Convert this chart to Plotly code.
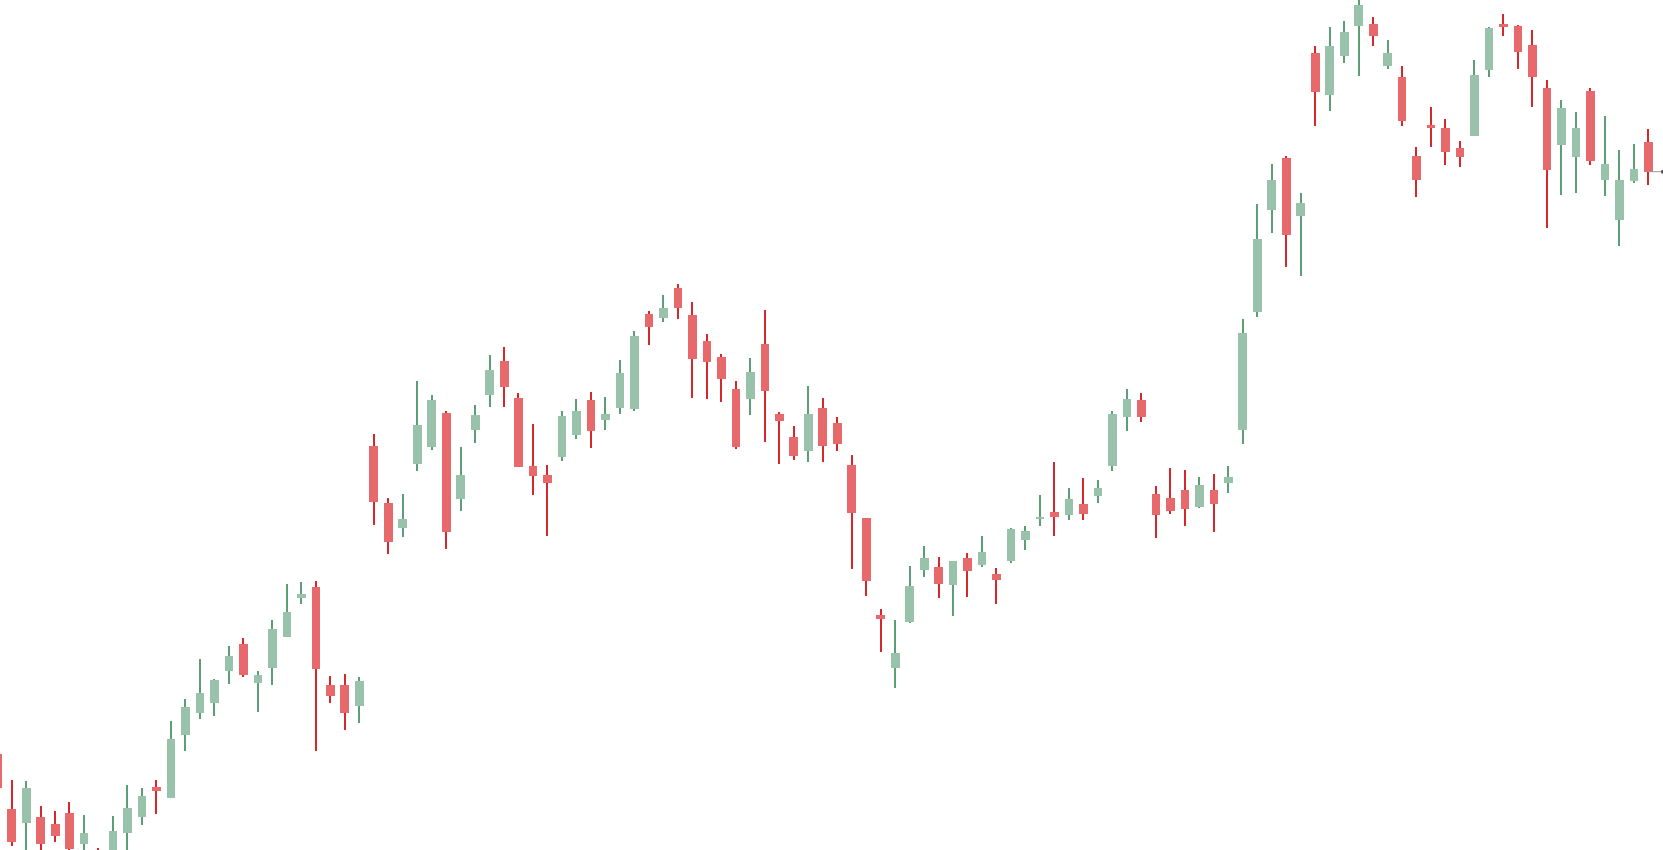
"""
Candlestick chart, axes hidden, plotted edge to edge
"""

import plotly.graph_objects as go

# OHLC per session
opens = [
    105.60, 100.10, 98.73, 99.30, 98.60, 99.70, 96.63, 95.70, 95.40, 97.73,
    99.33, 102.30, 101.23, 107.53, 109.73, 110.73, 113.93, 116.60, 112.73, 114.23,
    117.33, 121.23, 122.30, 112.50, 112.50, 110.43, 136.40, 130.70, 128.23, 134.63,
    136.33, 139.70, 131.13, 138.03, 141.53, 144.90, 141.20, 134.40, 133.50, 135.33,
    137.53, 141.00, 139.03, 140.23, 140.13, 149.60, 149.23, 152.20, 149.50, 146.90,
    145.30, 142.10, 141.13, 146.64, 139.60, 137.30, 135.93, 140.20, 138.70, 134.50,
    129.20, 119.47, 114.23, 118.83, 124.03, 124.30, 122.53, 125.20, 124.53, 123.60,
    124.93, 127.03, 129.17, 129.80, 129.53, 130.60, 131.43, 134.43, 139.27, 141.00,
    131.60, 131.20, 132.00, 130.33, 132.00, 132.73, 138.03, 149.80, 160.03, 165.20,
    159.43, 175.70, 171.53, 175.43, 178.43, 178.60, 174.43, 173.30, 165.40, 168.50,
    168.20, 166.20, 167.45, 174.03, 178.60, 178.40, 176.50, 172.20, 166.53, 165.33,
    171.90, 163.03, 159.03, 162.93, 166.80,
]
highs = [
    106.00, 103.00, 102.90, 100.37, 99.87, 100.77, 99.47, 96.17, 99.37, 102.47,
    102.17, 103.00, 108.87, 111.07, 115.07, 113.10, 116.40, 117.17, 113.87, 118.97,
    122.60, 122.77, 122.90, 113.37, 113.57, 113.30, 137.57, 131.17, 131.60, 142.87,
    141.47, 139.90, 136.27, 140.47, 145.50, 146.27, 141.70, 138.57, 134.47, 139.87,
    141.07, 141.77, 141.27, 144.97, 147.87, 149.87, 151.47, 152.57, 150.77, 147.57,
    145.60, 142.87, 145.17, 150.03, 139.77, 138.37, 142.40, 141.17, 139.27, 135.47,
    129.20, 120.10, 119.00, 124.37, 126.40, 125.27, 124.90, 125.67, 127.40, 124.17,
    128.20, 128.40, 131.47, 134.80, 132.17, 133.17, 132.97, 139.87, 142.07, 141.67,
    132.37, 134.17, 133.97, 133.27, 133.57, 134.37, 149.07, 160.57, 164.57, 165.43,
    161.67, 176.37, 178.27, 178.87, 181.30, 179.27, 176.97, 174.37, 166.30, 170.27,
    169.10, 166.87, 174.97, 178.30, 179.57, 178.47, 177.97, 172.97, 170.97, 169.77,
    172.17, 169.37, 165.97, 166.57, 168.07,
]
lows = [
    101.50, 96.43, 95.50, 95.70, 96.83, 95.80, 95.40, 94.80, 95.00, 95.80,
    98.47, 99.57, 101.17, 105.93, 109.07, 109.37, 112.63, 113.27, 109.83, 112.47,
    117.33, 120.57, 105.87, 110.67, 107.97, 108.67, 128.47, 125.57, 127.27, 133.87,
    135.97, 126.13, 129.87, 136.67, 140.27, 140.27, 134.33, 131.47, 127.37, 134.87,
    137.07, 136.17, 137.97, 139.63, 139.87, 146.53, 148.77, 149.13, 141.23, 141.13,
    140.77, 136.13, 139.55, 136.80, 134.57, 134.97, 134.77, 134.77, 135.87, 124.07,
    121.37, 115.77, 112.17, 118.67, 123.35, 121.17, 119.37, 121.27, 124.27, 120.57,
    124.67, 125.97, 128.37, 127.37, 128.97, 128.97, 130.67, 133.87, 137.87, 138.85,
    127.17, 129.57, 128.37, 130.17, 127.77, 131.67, 136.57, 149.33, 157.67, 154.27,
    153.37, 168.37, 169.87, 174.67, 173.43, 176.37, 174.13, 168.43, 161.33, 166.27,
    164.53, 164.33, 167.43, 173.27, 177.37, 174.07, 170.27, 158.17, 161.47, 161.67,
    164.53, 161.37, 156.37, 162.67, 162.50,
]
closes = [
    102.20, 96.83, 102.20, 96.63, 97.43, 96.13, 97.70, 95.20, 97.90, 100.20,
    101.40, 101.93, 107.10, 110.30, 111.70, 113.00, 115.40, 113.53, 113.50, 118.10,
    119.80, 121.60, 114.13, 111.43, 109.73, 112.90, 130.83, 126.83, 129.10, 138.50,
    141.00, 127.83, 133.50, 139.50, 144.00, 142.33, 134.33, 133.43, 132.73, 139.40,
    139.90, 137.93, 139.60, 143.70, 147.40, 148.33, 150.20, 150.23, 145.13, 144.83,
    143.13, 136.33, 143.80, 141.93, 138.93, 135.43, 139.60, 136.43, 136.63, 129.73,
    122.93, 119.13, 115.70, 122.40, 125.20, 122.63, 124.90, 123.93, 125.80, 123.03,
    128.10, 127.90, 129.30, 129.33, 131.10, 129.63, 132.20, 139.60, 141.10, 139.27,
    129.53, 129.93, 130.13, 132.50, 130.63, 133.30, 147.70, 157.10, 163.00, 157.53,
    160.70, 171.83, 176.40, 177.80, 180.50, 177.43, 175.70, 168.93, 163.03, 168.23,
    165.83, 165.33, 173.50, 178.20, 178.27, 175.83, 173.33, 164.03, 170.20, 168.20,
    164.93, 164.60, 162.97, 164.10, 163.83,
]

UP_BODY = '#98c2aa'
UP_WICK = '#5c9e76'
DOWN_BODY = '#e7696c'
DOWN_WICK = '#d6282c'

idx = list(range(len(closes)))
rising = [c > o for o, c in zip(opens, closes)]

fig = go.Figure()

# Wicks (thin bars from low to high)
fig.add_trace(go.Bar(
    x=idx,
    base=lows,
    y=[h - l for h, l in zip(highs, lows)],
    width=0.09,
    marker=dict(color=[UP_WICK if r else DOWN_WICK for r in rising], line=dict(width=0)),
    hoverinfo='skip'
))

# Bodies (open to close)
fig.add_trace(go.Bar(
    x=idx,
    base=[min(o, c) for o, c in zip(opens, closes)],
    y=[abs(c - o) for o, c in zip(opens, closes)],
    width=0.6,
    marker=dict(color=[UP_BODY if r else DOWN_BODY for r in rising], line=dict(width=0)),
    customdata=list(zip(opens, highs, lows, closes)),
    hovertemplate='O %{customdata[0]:.2f}<br>H %{customdata[1]:.2f}'
                  '<br>L %{customdata[2]:.2f}<br>C %{customdata[3]:.2f}<extra></extra>'
))

# Last price marker running off the right edge
fig.add_trace(go.Scatter(
    x=[idx[-1], idx[-1] + 1],
    y=[closes[-1], closes[-1]],
    mode='lines+markers',
    line=dict(color='#9a9a9a', width=1),
    marker=dict(color=['rgba(0,0,0,0)', '#555555'], size=4),
    cliponaxis=False,
    hoverinfo='skip'
))

fig.update_layout(
    width=1663,
    height=850,
    margin=dict(l=0, r=0, t=0, b=0),
    barmode='overlay',
    bargap=0,
    showlegend=False,
    plot_bgcolor='white',
    paper_bgcolor='white',
    xaxis=dict(visible=False, range=[0.192, 115.01]),
    yaxis=dict(visible=False, range=[96, 181])
)

# drop the default page margin so the plot sits flush with the window
fig.write_html(
    "out.html",
    config={'displayModeBar': False},
    post_script="document.body.style.margin='0';"
)
